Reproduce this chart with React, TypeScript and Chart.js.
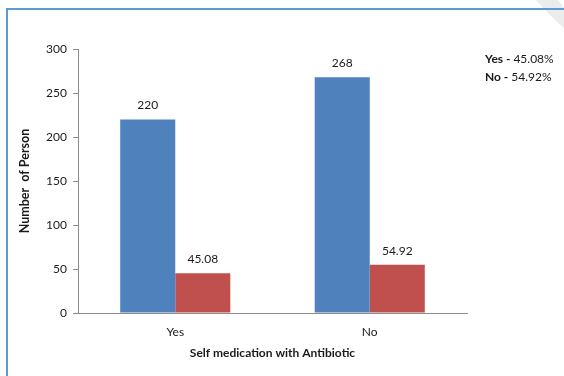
import React, { useEffect, useRef } from "react";
import { Chart, registerables } from "chart.js";

Chart.register(...registerables);

// Survey data: self medication with antibiotics
const categories = ["Yes", "No"];
const personCounts = [220, 268];
const percentShares = [45.08, 54.92];
const seriesNames = ["Number of Person", "Percentage"];
const yTicks = [0, 50, 100, 150, 200, 250, 300];

const FONT = "Lato, 'Open Sans', sans-serif";
const TEXT = "#1a1a1a";
const AXIS = "#8c8c8c";

// Values printed above each bar
const valueLabels = {
  id: "valueLabels",
  afterDatasetsDraw(chart: any) {
    const ctx = chart.ctx;
    ctx.save();
    ctx.font = `12px ${FONT}`;
    ctx.fillStyle = TEXT;
    ctx.textAlign = "center";
    ctx.textBaseline = "middle";
    chart.data.datasets.forEach((ds: any, di: number) => {
      const meta = chart.getDatasetMeta(di);
      meta.data.forEach((bar: any, i: number) => {
        ctx.fillText(String(ds.data[i]), bar.x, bar.y - 14);
      });
    });
    ctx.restore();
  },
};

// Percentage summary at the right and the frame lines
const sideNote = {
  id: "sideNote",
  beforeDraw(chart: any) {
    const ctx = chart.ctx;
    ctx.save();
    ctx.fillStyle = "#ececec";
    ctx.beginPath();
    ctx.moveTo(536, 0);
    ctx.lineTo(558, 0);
    ctx.lineTo(564, 8);
    ctx.lineTo(564, 28);
    ctx.quadraticCurveTo(548, 14, 536, 0);
    ctx.closePath();
    ctx.fill();
    ctx.strokeStyle = "#5b9bd5";
    ctx.lineWidth = 2;
    ctx.beginPath();
    ctx.moveTo(7, 376);
    ctx.lineTo(7, 9);
    ctx.lineTo(564, 9);
    ctx.stroke();
    ctx.restore();
  },
  afterDraw(chart: any) {
    const ctx = chart.ctx;
    ctx.save();
    ctx.textBaseline = "middle";
    ctx.textAlign = "left";
    ctx.fillStyle = TEXT;
    categories.forEach((c, i) => {
      const y = 59 + i * 18;
      const bold = `${c} - `;
      ctx.font = `bold 12px ${FONT}`;
      ctx.fillText(bold, 485, y);
      const w = ctx.measureText(bold).width;
      ctx.font = `12px ${FONT}`;
      ctx.fillText(`${percentShares[i].toFixed(2)}%`, 485 + w, y);
    });
    ctx.restore();
  },
};

export default function App() {
  const ref = useRef<HTMLCanvasElement>(null);

  useEffect(() => {
    if (!ref.current) return;
    const chart = new Chart(ref.current, {
      type: "bar",
      data: {
        labels: categories,
        datasets: [
          {
            label: seriesNames[0],
            data: personCounts,
            backgroundColor: "#4f81bd",
            categoryPercentage: 0.566,
            barPercentage: 1,
          },
          {
            label: seriesNames[1],
            data: percentShares,
            backgroundColor: "#c0504d",
            categoryPercentage: 0.566,
            barPercentage: 1,
          },
        ],
      },
      options: {
        animation: false,
        responsive: false,
        maintainAspectRatio: false,
        layout: { padding: { top: 49, right: 97, left: 0, bottom: 0 } },
        plugins: {
          legend: { display: false },
          tooltip: { enabled: false },
        },
        scales: {
          x: {
            grid: { display: false },
            border: { display: true, color: AXIS, width: 1 },
            ticks: { color: TEXT, font: { family: FONT, size: 12 }, padding: 4 },
            title: {
              display: true,
              text: "Self medication with Antibiotic",
              color: TEXT,
              font: { family: FONT, size: 12, weight: "bold" },
              padding: { top: 4, bottom: 16 },
            },
            afterFit(scale: any) {
              scale.height = 63;
            },
          },
          y: {
            min: 0,
            max: 300,
            afterBuildTicks(scale: any) {
              scale.ticks = yTicks.map((v) => ({ value: v }));
            },
            grid: {
              display: true,
              drawOnChartArea: false,
              drawTicks: true,
              tickLength: 5,
              color: AXIS,
            },
            border: { display: true, color: AXIS, width: 1 },
            ticks: { color: TEXT, font: { family: FONT, size: 12 }, padding: 6 },
            title: {
              display: true,
              text: "Number  of Person",
              color: TEXT,
              font: { family: FONT, size: 12.5, weight: "bold" },
              padding: { top: 17, bottom: 4 },
            },
            afterFit(scale: any) {
              scale.width = 78;
            },
          },
        },
      },
      plugins: [valueLabels, sideNote],
    });
    return () => chart.destroy();
  }, []);

  return (
    <div style={{ position: "absolute", left: 0, top: 0, width: 564, height: 376, background: "#fff" }}>
      <canvas ref={ref} width={564} height={376} style={{ display: "block" }} />
    </div>
  );
}
